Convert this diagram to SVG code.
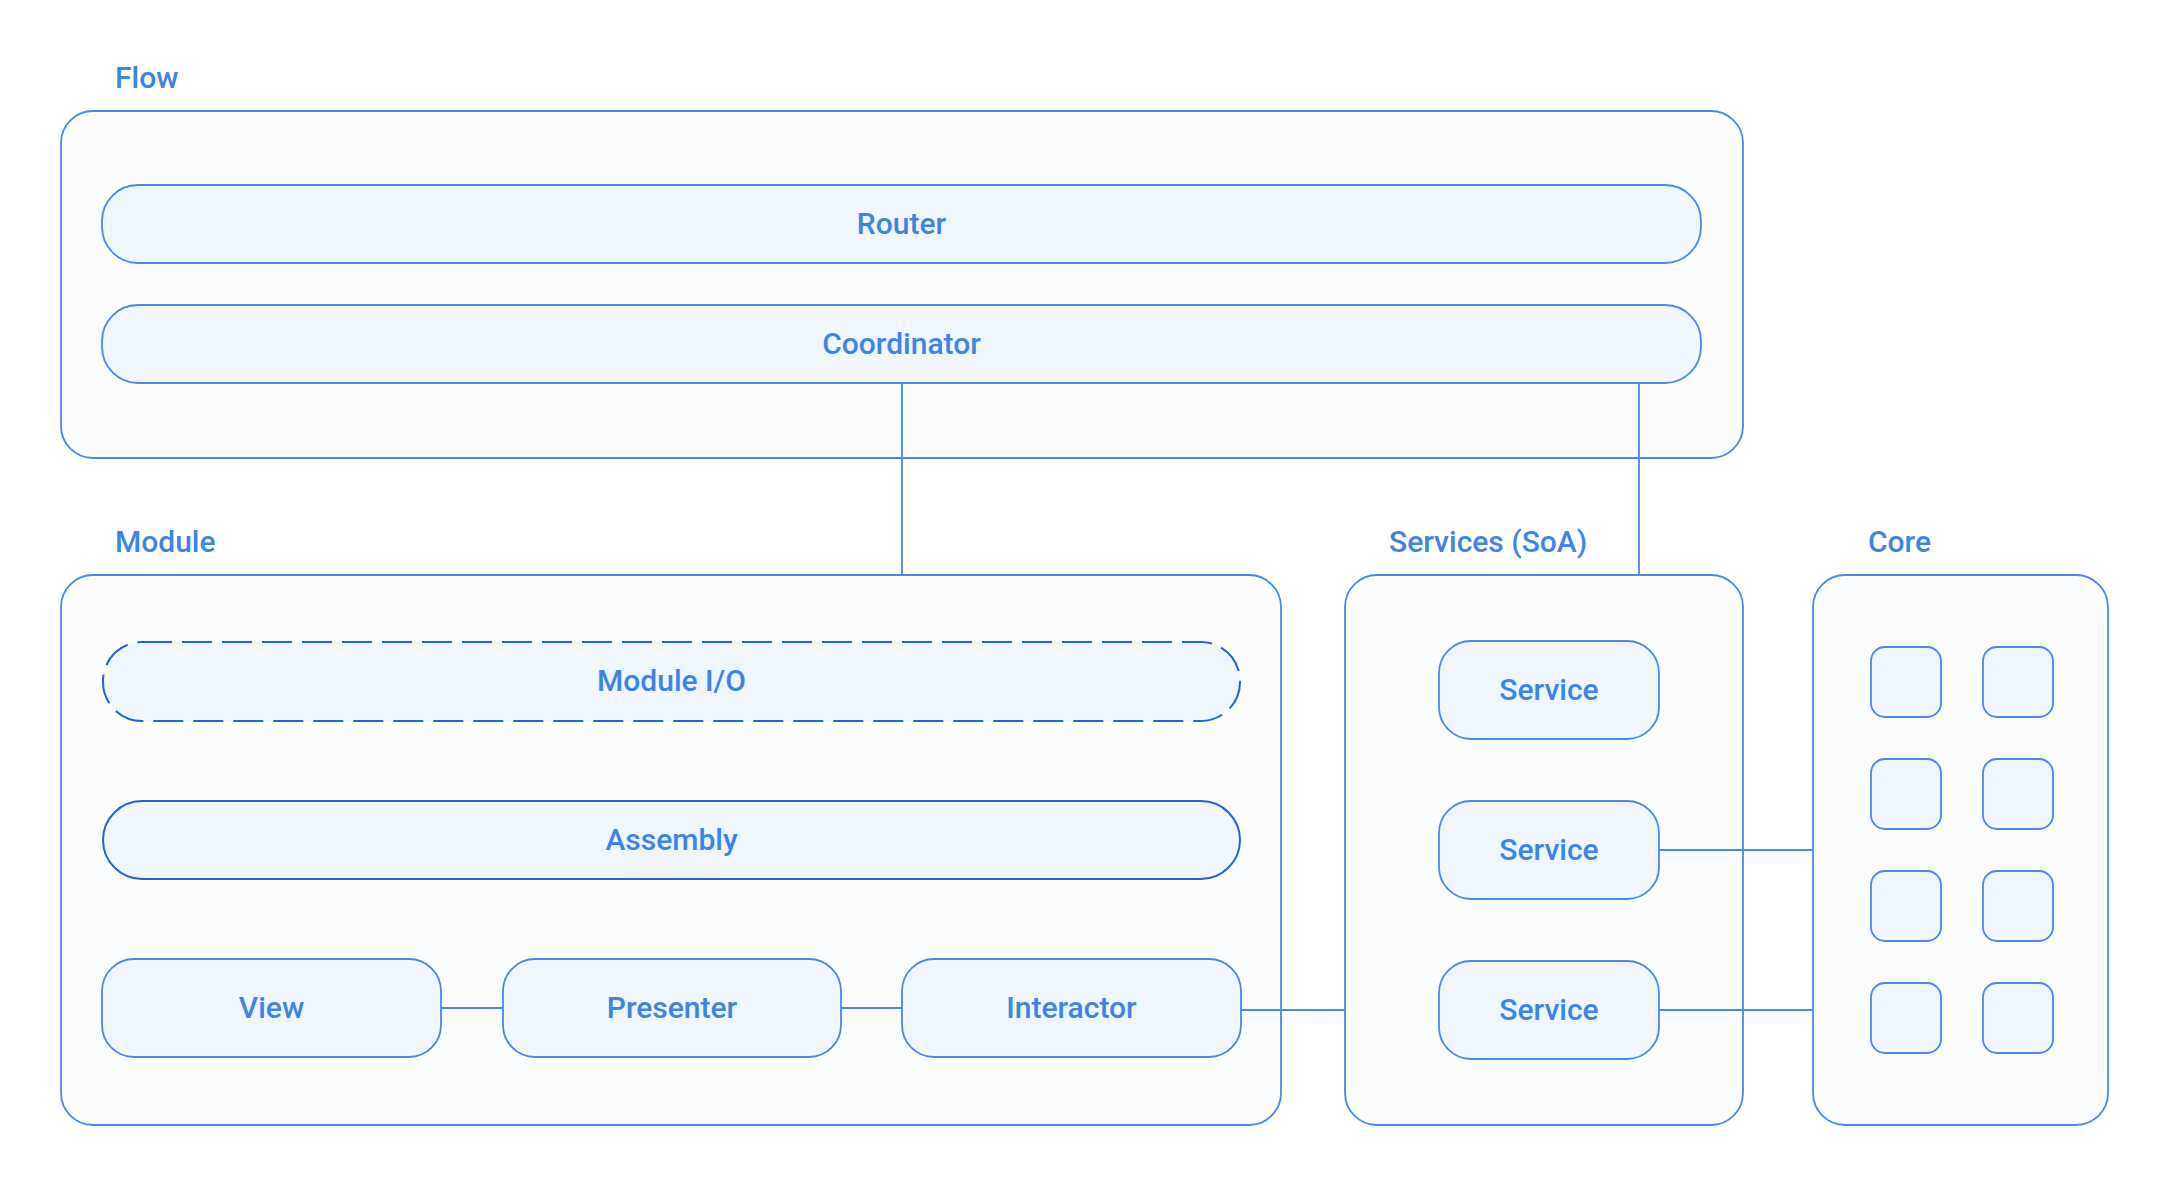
<svg xmlns="http://www.w3.org/2000/svg" width="2170" height="1186" viewBox="0 0 2170 1186">
  <style>
    .bg { fill: #ffffff; }
    .group { fill: #fbfcfe; stroke: #4689ea; stroke-width: 1.8; }
    .node { fill: #eff6fe; stroke: #4689ea; stroke-width: 1.8; }
    .strong { fill: #eff6fe; stroke: #1b66d6; stroke-width: 2; }
    .dashed { stroke-dasharray: 30 10; }
    .conn { stroke: #4689ea; stroke-width: 1.8; fill: none; }
    .label { font-family: Roboto, "Liberation Sans", sans-serif; font-weight: 500; font-size: 30px; fill: #3d84e6; }
    .mid { text-anchor: middle; }
  </style>
  <rect class="bg" x="0" y="0" width="2170" height="1186"/>

  <!-- group containers -->
  <g id="flow">
    <text class="label" x="115" y="88">Flow</text>
    <rect class="group" x="61" y="111" width="1682" height="347" rx="32" ry="32"/>
  </g>
  <g id="module">
    <text class="label" x="115" y="552">Module</text>
    <rect class="group" x="61" y="575" width="1220" height="550" rx="32" ry="32"/>
  </g>
  <g id="services">
    <text class="label" x="1389" y="552">Services (SoA)</text>
    <rect class="group" x="1345" y="575" width="398" height="550" rx="32" ry="32"/>
  </g>
  <g id="core">
    <text class="label" x="1868" y="552">Core</text>
    <rect class="group" x="1813" y="575" width="295" height="550" rx="32" ry="32"/>
  </g>

  <!-- connectors -->
  <g id="connectors">
    <line class="conn" x1="902" y1="383" x2="902" y2="575"/>
    <line class="conn" x1="1639" y1="383" x2="1639" y2="575"/>
    <line class="conn" x1="441" y1="1008" x2="503" y2="1008"/>
    <line class="conn" x1="841" y1="1008" x2="902" y2="1008"/>
    <line class="conn" x1="1241" y1="1010" x2="1345" y2="1010"/>
    <line class="conn" x1="1659" y1="850" x2="1813" y2="850"/>
    <line class="conn" x1="1659" y1="1010" x2="1813" y2="1010"/>
  </g>

  <!-- flow nodes -->
  <g id="router">
    <rect class="node" x="102" y="185" width="1599" height="78" rx="36" ry="36"/>
    <text class="label mid" x="901.5" y="233.5">Router</text>
  </g>
  <g id="coordinator">
    <rect class="node" x="102" y="305" width="1599" height="78" rx="36" ry="36"/>
    <text class="label mid" x="901.5" y="353.5">Coordinator</text>
  </g>

  <!-- module nodes -->
  <g id="module-io">
    <rect class="strong dashed" x="103" y="642" width="1137" height="79" rx="39" ry="39"/>
    <text class="label mid" x="671.5" y="691">Module I/O</text>
  </g>
  <g id="assembly">
    <rect class="strong" x="103" y="801" width="1137" height="78" rx="39" ry="39"/>
    <text class="label mid" x="671.5" y="849.5">Assembly</text>
  </g>
  <g id="view">
    <rect class="node" x="102" y="959" width="339" height="98" rx="32" ry="32"/>
    <text class="label mid" x="271.5" y="1018">View</text>
  </g>
  <g id="presenter">
    <rect class="node" x="503" y="959" width="338" height="98" rx="32" ry="32"/>
    <text class="label mid" x="672" y="1018">Presenter</text>
  </g>
  <g id="interactor">
    <rect class="node" x="902" y="959" width="339" height="98" rx="32" ry="32"/>
    <text class="label mid" x="1071.5" y="1018">Interactor</text>
  </g>

  <!-- services nodes -->
  <g id="service-1">
    <rect class="node" x="1439" y="641" width="220" height="98" rx="32" ry="32"/>
    <text class="label mid" x="1549" y="700">Service</text>
  </g>
  <g id="service-2">
    <rect class="node" x="1439" y="801" width="220" height="98" rx="32" ry="32"/>
    <text class="label mid" x="1549" y="860">Service</text>
  </g>
  <g id="service-3">
    <rect class="node" x="1439" y="961" width="220" height="98" rx="32" ry="32"/>
    <text class="label mid" x="1549" y="1020">Service</text>
  </g>

  <!-- core nodes -->
  <g id="core-1"><rect class="node" x="1871" y="647" width="70" height="70" rx="14" ry="14"/></g>
  <g id="core-2"><rect class="node" x="1983" y="647" width="70" height="70" rx="14" ry="14"/></g>
  <g id="core-3"><rect class="node" x="1871" y="759" width="70" height="70" rx="14" ry="14"/></g>
  <g id="core-4"><rect class="node" x="1983" y="759" width="70" height="70" rx="14" ry="14"/></g>
  <g id="core-5"><rect class="node" x="1871" y="871" width="70" height="70" rx="14" ry="14"/></g>
  <g id="core-6"><rect class="node" x="1983" y="871" width="70" height="70" rx="14" ry="14"/></g>
  <g id="core-7"><rect class="node" x="1871" y="983" width="70" height="70" rx="14" ry="14"/></g>
  <g id="core-8"><rect class="node" x="1983" y="983" width="70" height="70" rx="14" ry="14"/></g>
</svg>
